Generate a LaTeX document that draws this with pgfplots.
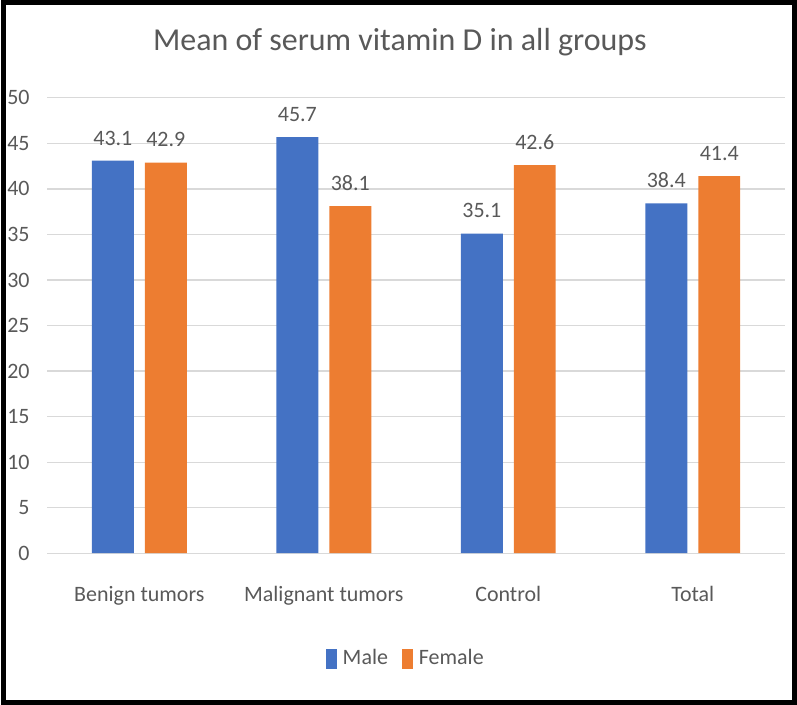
\documentclass[border=0pt]{standalone}
\usepackage{fontspec}
\setmainfont{Carlito}
\usepackage{pgfplots}
\pgfplotsset{compat=1.18}
\definecolor{male}{HTML}{4472C4}
\definecolor{female}{HTML}{ED7D31}
\definecolor{txt}{HTML}{595959}
\definecolor{gridc}{HTML}{D9D9D9}
\begin{document}
\begin{tikzpicture}
\fontsize{22}{26}\selectfont
\begin{axis}[
    at={(46pt,152pt)}, anchor=south west,
    scale only axis,
    width=739pt, height=456pt,
    ybar=11pt,
    bar width=42pt,
    ymin=0, ymax=50,
    ytick={0,5,...,50},
    xmin=-0.5, xmax=3.5,
    xtick=data,
    xticklabels={Benign tumors, Malignant tumors, Control, Total},
    axis line style={draw=none},
    major tick length=0pt,
    ymajorgrids,
    grid style={gridc, line width=1.2pt},
    tick label style={txt, font=\fontsize{22}{26}\selectfont},
    /pgf/number format/assume math mode=true,
    yticklabel style={xshift=-10pt},
    xticklabel style={yshift=-26pt},
    nodes near coords={\pgfmathprintnumber[fixed,fixed zerofill,precision=1,assume math mode=true]{\pgfplotspointmeta}},
    nodes near coords style={txt, font=\fontsize{22}{26}\selectfont, yshift=8pt},
    title={Mean of serum vitamin D in all groups},
    title style={at={(0.478,1)}, anchor=center, yshift=50pt, txt, font=\fontsize{32}{38}\selectfont},
    legend style={at={(0.486,-0.232)}, anchor=center, draw=none,
      legend columns=-1, font=\fontsize{22}{26}\selectfont, text=txt,
      /tikz/every even column/.append style={column sep=12pt}},
    legend image code/.code={\fill[#1] (0pt,-10pt) rectangle (11pt,10pt); \path (15pt,0pt);},
]
\addplot[fill=male, draw=none] coordinates {(0,43.1) (1,45.7) (2,35.1) (3,38.4)};
\addplot[fill=female, draw=none] coordinates {(0,42.9) (1,38.1) (2,42.6) (3,41.4)};
\legend{Male, Female}
\end{axis}
\draw[black, line width=5pt] (2.5pt,2.5pt) rectangle (794.5pt,703.5pt);
\end{tikzpicture}
\end{document}
